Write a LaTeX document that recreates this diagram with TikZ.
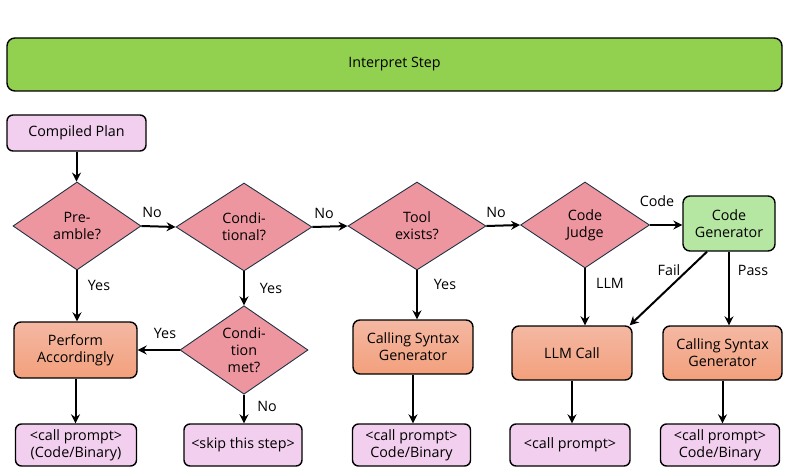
\documentclass[tikz,border=0pt]{standalone}
\usepackage{fontspec}
\setmainfont{Open Sans}
\usetikzlibrary{shapes.geometric,arrows.meta,calc}
\definecolor{barGreen}{HTML}{92D050}
\definecolor{planPink}{HTML}{F2CFEE}
\definecolor{diaPink}{HTML}{EE96A0}
\definecolor{genGreen}{HTML}{B5E6A2}
\definecolor{orTop}{HTML}{F4B8A3}
\definecolor{orBot}{HTML}{F3A07C}
\definecolor{diaLine}{HTML}{1F3344}
\tikzset{
  txt/.style={font=\fontsize{14.3pt}{17pt}\selectfont, align=center},
  bar/.style={txt, draw=black, line width=1.4pt, rounded corners=8pt, fill=barGreen, minimum width=775pt, minimum height=53pt, inner sep=0pt},
  pinkbox/.style={txt, draw=black, line width=1.4pt, rounded corners=6pt, fill=planPink, inner sep=0pt},
  orbox/.style={txt, draw=black, line width=1.4pt, rounded corners=7pt, top color=orTop, bottom color=orBot, inner sep=0pt},
  greenbox/.style={txt, draw=black, line width=1.4pt, rounded corners=7pt, fill=genGreen, inner sep=0pt},
  dia/.style={txt, diamond, draw=diaLine, line width=0.9pt, fill=diaPink, inner sep=0pt},
  arr/.style={-{Stealth[length=9pt,width=9pt,inset=3pt]}, line width=2pt, black},
  lbl/.style={txt, inner sep=0pt},
}
\begin{document}
\begin{tikzpicture}[x=1pt,y=-1pt]
\useasboundingbox (0,0) rectangle (789,476);
\node[bar] (interp) at (394.5,64.5) {Interpret Step};
\node[pinkbox, minimum width=139pt, minimum height=36pt] (plan) at (76.5,133) {Compiled Plan};
% diamonds
\node[dia, minimum width=128pt, minimum height=88pt] (pre) at (77,226) {Pre-\\amble?};
\node[dia, minimum width=136pt, minimum height=88pt] (cond) at (244,227) {Condi-\\tional?};
\node[dia, minimum width=138pt, minimum height=88pt] (tool) at (417,226) {Tool\\exists?};
\node[dia, minimum width=129pt, minimum height=86pt] (judge) at (585,225) {Code\\Judge};
\node[dia, minimum width=128pt, minimum height=86pt] (met) at (244,350) {Condi-\\tion\\met?};
\node[greenbox, minimum width=92pt, minimum height=55pt] (codegen) at (729,223.5) {Code\\Generator};
% orange boxes
\node[orbox, minimum width=123pt, minimum height=56pt] (perform) at (75.5,350) {Perform\\Accordingly};
\node[orbox, minimum width=120pt, minimum height=54pt] (csg1) at (413,347) {Calling Syntax\\Generator};
\node[orbox, minimum width=120pt, minimum height=54pt] (llm) at (572,353) {LLM Call};
\node[orbox, minimum width=119pt, minimum height=54pt] (csg2) at (722.5,353) {Calling Syntax\\Generator};
% bottom boxes
\node[pinkbox, minimum width=121pt, minimum height=42pt] (b1) at (76,445) {<call prompt>\\(Code/Binary)};
\node[pinkbox, minimum width=118pt, minimum height=42pt] (b2) at (243,445) {<skip this step>};
\node[pinkbox, minimum width=118pt, minimum height=42pt] (b3) at (411.5,445) {<call prompt>\\Code/Binary};
\node[pinkbox, minimum width=120pt, minimum height=42pt] (b4) at (570,445) {<call prompt>};
\node[pinkbox, minimum width=119pt, minimum height=42pt] (b5) at (720,445) {<call prompt>\\Code/Binary};
% arrows
\draw[arr] (plan.south) -- (plan.south |- pre.north);
\draw[arr] (pre.east) -- (cond.west);
\draw[arr] (cond.east) -- (tool.west);
\draw[arr] (tool.east) -- (judge.west);
\draw[arr] (judge.east) -- (codegen.west |- judge.east);
\draw[arr] (pre.south) -- (pre.south |- perform.north);
\draw[arr] (cond.south) -- (met.north);
\draw[arr] (met.west) -- (perform.east |- met.west);
\draw[arr] (met.south) -- (met.south |- b2.north);
\draw[arr] (tool.south) -- (tool.south |- csg1.north);
\draw[arr] (judge.south) -- (judge.south |- llm.north);
\draw[arr] ($(codegen.south)+(-22,0)$) -- ($(llm.north east)+(-3,0)$);
\draw[arr] (codegen.south) -- (codegen.south |- csg2.north);
\draw[arr] (perform.south) -- (perform.south |- b1.north);
\draw[arr] (csg1.south) -- (csg1.south |- b3.north);
\draw[arr] (llm.south) -- (llm.south |- b4.north);
\draw[arr] (csg2.south) -- (csg2.south |- b5.north);
% labels
\node[lbl] (l1) at (152,212) {No};
\node[lbl] (l2) at (324,213) {No};
\node[lbl] (l3) at (496,212) {No};
\node[lbl] (l4) at (657,201) {Code};
\node[lbl] (l5) at (99,285) {Yes};
\node[lbl] (l6) at (271,288) {Yes};
\node[lbl] (l7) at (165,333) {Yes};
\node[lbl] (l8) at (267,406) {No};
\node[lbl] (l9) at (445,284) {Yes};
\node[lbl] (l10) at (610,283) {LLM};
\node[lbl] (l11) at (669,270) {Fail};
\node[lbl] (l12) at (753,270) {Pass};
\end{tikzpicture}
\end{document}
